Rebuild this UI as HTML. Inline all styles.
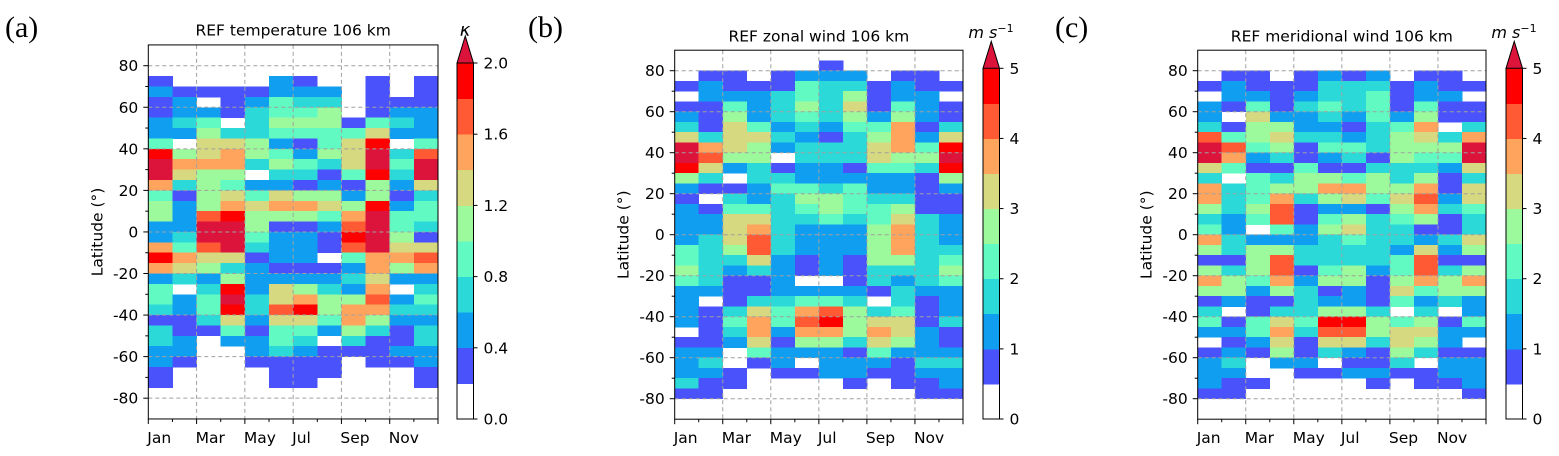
<!DOCTYPE html>
<html><head><meta charset="utf-8"><title>REF 106 km</title>
<style>
html,body{margin:0;padding:0;background:#fff;}
svg{display:block;font-family:"DejaVu Sans","Liberation Sans",sans-serif;}
</style></head>
<body>
<svg id="fig" width="1559" height="456" viewBox="0 0 1559 456" xmlns="http://www.w3.org/2000/svg"></svg>
<script>
const _ = null;
const months = ["Jan","Feb","Mar","Apr","May","Jun","Jul","Aug","Sep","Oct","Nov","Dec"];
const monthLabels = ["Jan","Mar","May","Jul","Sep","Nov"];
const latTicks = [-80,-60,-40,-20,0,20,40,60,80];
const cbTicksTemp = ["0.0","0.4","0.8","1.2","1.6","2.0"];
const cbTicksWind = ["0","1","2","3","4","5"];
const latTopTemp = 75;
const latTopZonal = 85;
const latTopMerid = 80;
const tempValues = [
[.3,_,_,_,_,.5,.3,_,_,.3,_,.3],
[.5,.3,.3,.3,.3,.5,.5,.5,_,.3,_,.3],
[.3,.5,_,.3,.5,.9,.7,.7,_,.3,.3,.3],
[.3,.5,.5,.3,.7,.9,.9,1.1,_,.3,.5,.5],
[.5,.7,.9,_,.7,1.1,1.1,1.1,.3,.9,.7,.5],
[.5,.5,1.1,.7,.7,.9,.9,.9,.9,1.3,.5,.5],
[.9,_,1.3,1.3,1.1,.5,.3,.9,1.3,1.9,_,.9],
[1.9,1.1,1.3,1.5,1.1,.9,.5,1.1,1.3,2.1,.7,1.7],
[2.1,1.5,1.5,1.5,.7,1.1,.9,.7,1.3,2.1,.9,2.1],
[2.1,1.3,1.1,1.1,_,.7,.7,.3,.9,1.9,.7,2.1],
[1.5,.7,1.1,.9,.5,.5,.3,.5,.3,1.1,.5,1.3],
[.9,.3,1.1,1.3,.9,1.3,1.1,1.1,.5,1.1,.3,.7],
[1.1,.5,1.1,1.5,1.3,1.5,1.5,1.3,1.1,1.9,.5,.9],
[1.1,.5,1.7,1.9,1.1,1.1,1.1,.9,1.5,2.1,.9,.9],
[.5,.5,2.1,2.1,1.1,.3,.3,.5,1.7,2.1,.9,.7],
[.5,.7,2.1,2.1,.9,.5,.5,.3,1.9,2.1,1.1,.3],
[1.5,.9,1.7,2.1,.7,.5,.5,.3,1.7,2.1,1.3,1.3],
[1.9,1.5,1.3,1.3,.3,.5,.5,_,.9,1.5,1.5,1.7],
[1.5,1.3,1.1,.7,.5,.3,.3,.3,.5,1.5,1.1,1.5],
[.5,.7,.5,1.1,.5,.5,.5,.5,.7,1.3,.5,.5],
[.9,_,.7,1.9,.5,1.3,1.1,.7,.5,1.5,_,.7],
[.9,.5,.9,2.1,.7,1.3,1.5,1.1,1.1,1.7,.5,.9],
[.7,.5,.9,1.9,.7,1.7,1.9,1.1,1.5,1.5,.7,.7],
[.3,.3,.7,1.3,.5,1.3,1.3,.9,1.5,1.1,.5,.5],
[.7,.3,.3,.9,.3,.9,.9,.5,1.1,.7,.3,.7],
[.7,.5,_,.5,.5,.9,.7,_,.7,.3,.3,.7],
[.5,.5,_,_,.5,.7,.5,.3,.3,.3,.5,.5],
[.5,.3,_,_,.3,.3,.3,.3,_,.3,.3,.5],
[.3,_,_,_,_,.3,.3,.3,_,_,_,.3],
[.3,_,_,_,_,.3,.3,_,_,_,_,.3]
];
const zonalValues = [
[_,_,_,_,_,_,.8,_,_,_,_,_],
[_,.8,.8,_,.8,1.2,1.2,1.2,_,.8,.8,_],
[.8,1.2,.8,.8,.8,2.2,1.8,1.8,.8,1.2,.8,.8],
[_,1.2,1.2,1.2,1.8,2.2,1.8,2.8,.8,1.2,1.2,_],
[.8,.8,2.2,1.2,1.8,2.8,1.8,3.2,.8,2.2,1.2,.8],
[1.2,.8,2.8,1.2,1.8,2.2,1.8,2.8,1.2,2.8,1.2,.8],
[1.8,.8,3.2,2.2,1.2,1.8,1.2,2.2,2.2,3.8,.8,1.8],
[3.2,1.8,3.2,3.2,1.8,1.2,.8,1.8,2.8,3.8,1.2,3.2],
[5.3,3.8,3.2,2.8,1.2,1.8,1.8,1.8,3.2,3.8,2.2,4.8],
[5.3,4.2,2.8,2.8,_,1.8,1.8,1.8,3.2,2.8,2.8,5.3],
[4.8,3.2,1.2,1.8,.8,1.2,1.2,.8,2.2,2.2,1.8,4.8],
[2.8,1.8,_,1.8,1.8,1.2,1.2,1.2,1.2,1.2,.8,2.8],
[1.2,.8,.8,1.2,2.2,2.2,1.8,2.2,1.2,1.2,.8,1.2],
[.8,_,1.8,1.2,1.8,2.8,2.8,2.2,1.8,1.8,.8,.8],
[1.2,.8,2.2,2.2,1.8,2.2,2.8,2.2,2.2,2.8,.8,.8],
[1.2,1.2,3.2,3.2,1.8,1.8,2.2,1.8,2.2,3.2,1.8,1.2],
[1.2,1.2,3.2,3.8,1.8,1.2,1.2,1.2,2.8,3.8,1.8,1.2],
[1.2,1.8,3.2,4.2,1.8,1.2,1.2,1.2,2.8,3.8,1.8,1.2],
[2.2,1.8,2.8,4.2,1.8,1.2,1.2,1.2,2.8,3.8,1.8,1.8],
[2.2,1.8,1.8,3.2,1.2,.8,1.2,.8,2.8,2.8,1.8,2.2],
[2.8,1.8,1.2,1.8,1.2,.8,1.2,.8,1.8,1.8,1.8,2.8],
[2.2,1.8,.8,.8,1.2,_,_,.8,1.8,1.2,1.8,2.2],
[1.2,1.2,.8,.8,1.2,1.2,1.2,1.2,.8,1.8,1.2,1.2],
[1.2,_,.8,1.8,1.8,2.2,2.2,1.8,_,1.8,.8,1.2],
[1.2,.8,1.8,3.2,2.2,3.8,4.2,2.8,1.8,2.2,.8,1.2],
[1.2,.8,2.2,3.8,2.2,4.2,4.8,2.8,3.2,3.2,.8,1.8],
[_,.8,1.8,3.8,1.2,3.8,3.8,2.8,3.8,3.2,1.2,.8],
[.8,.8,1.2,3.2,.8,2.8,2.8,1.8,3.2,2.8,1.2,.8],
[1.2,1.2,_,2.2,1.2,1.2,1.2,.8,2.2,1.2,1.2,1.2],
[1.2,1.8,_,.8,1.2,_,1.2,1.2,1.2,.8,1.8,1.8],
[1.2,1.2,.8,_,.8,.8,1.2,1.2,.8,.8,1.2,1.2],
[1.8,.8,.8,_,_,_,_,.8,_,.8,.8,1.2],
[.8,.8,_,_,_,_,_,_,_,_,.8,.8]
];
const meridValues = [
[_,.8,.8,_,.8,1.2,.8,1.2,_,.8,.8,_],
[.8,1.2,.8,.8,.8,1.8,1.8,1.8,.8,1.2,.8,.8],
[_,1.2,1.2,.8,1.2,1.8,1.8,2.2,.8,1.2,1.2,_],
[1.2,.8,2.2,.8,1.8,2.2,1.8,2.2,.8,2.2,.8,.8],
[1.2,_,3.2,1.2,1.2,1.8,1.2,2.2,1.2,2.8,.8,.8],
[1.8,.8,2.8,2.8,1.2,1.2,.8,1.8,2.2,3.8,_,1.8],
[4.2,2.2,2.8,3.2,1.8,1.8,1.2,1.8,2.8,3.2,1.8,3.8],
[5.3,4.2,2.2,2.8,.8,2.2,2.2,1.8,2.8,2.8,2.8,5.3],
[5.3,3.8,1.2,1.8,.8,1.2,1.8,.8,2.8,2.2,2.2,5.3],
[3.2,2.2,.8,.8,2.2,.8,.8,1.8,1.8,1.8,1.2,3.2],
[1.8,_,2.2,1.8,2.8,2.8,2.2,2.8,1.8,2.8,.8,1.8],
[3.8,1.8,2.2,2.8,2.8,3.8,3.8,2.8,2.8,3.8,.8,3.2],
[3.8,1.8,2.2,3.8,1.8,2.8,3.2,2.2,3.2,4.2,1.2,3.2],
[2.8,1.8,2.8,4.2,.8,1.2,1.2,.8,2.8,3.8,1.8,2.2],
[1.8,1.2,2.2,4.2,.8,2.2,2.8,1.8,2.2,2.8,.8,1.8],
[2.2,1.2,_,2.2,1.2,2.8,3.2,1.8,1.8,.8,.8,1.8],
[3.8,1.8,1.2,1.2,1.2,1.8,2.2,1.8,1.8,1.2,1.8,3.2],
[2.8,1.8,2.8,2.8,1.8,1.8,1.8,1.8,1.2,3.2,1.2,2.8],
[.8,.8,2.8,4.2,1.8,1.8,1.8,1.8,2.2,4.2,.8,.8],
[2.8,1.8,2.8,4.2,.8,2.2,2.8,1.2,2.2,4.2,1.8,2.8],
[3.8,2.8,2.2,3.8,1.2,2.8,2.8,.8,2.8,3.8,2.8,3.8],
[2.8,2.8,1.2,2.8,1.8,.8,1.2,.8,3.2,2.2,2.8,2.8],
[.8,1.2,.8,.8,1.8,1.2,1.2,.8,2.2,1.2,1.8,1.2],
[1.8,_,.8,1.8,1.8,2.8,2.8,1.8,_,1.8,_,1.2],
[2.2,.8,2.2,3.2,2.2,4.8,4.8,2.8,2.2,2.8,.8,2.2],
[1.2,1.2,2.2,3.8,1.8,4.2,4.2,2.8,3.2,3.2,1.2,1.2],
[_,.8,1.2,3.2,.8,3.2,3.2,1.8,3.2,2.8,1.2,_],
[.8,1.2,.8,2.8,.8,1.8,1.2,.8,2.8,1.8,.8,.8],
[1.2,1.8,_,1.2,1.2,_,.8,.8,1.8,_,1.2,1.2],
[1.2,1.2,_,_,.8,.8,1.2,1.2,.8,.8,1.2,1.2],
[1.2,.8,.8,_,_,_,_,.8,_,.8,.8,1.2],
[.8,.8,_,_,_,_,_,_,_,_,_,.8]
];

const COLORS = ["#ffffff","#4a53fb","#109ff0","#2bdad8","#62fac3","#9cfa9c","#d6d980","#ffa45c","#ff5a33","#ff0000","#dc143c"];
const FS = "15.5";
const NS = "http://www.w3.org/2000/svg";
const svg = document.getElementById("fig");
function mk(tag, attrs, parent, text){
  const e = document.createElementNS(NS, tag);
  for (const k in attrs) e.setAttribute(k, attrs[k]);
  if (text !== undefined) e.textContent = text;
  (parent || svg).appendChild(e);
  return e;
}

function drawPanel(cfg){
  const g = mk("g", {});
  
  
  const colW = (cfg.x1 - cfg.x0) / 12;
  const xScale = i => cfg.x0 + i * colW;
  const yScale = lat => cfg.y80 + (80 - lat) * cfg.k;
  const yTop = yScale(90), yBot = yScale(-90);
  const cells = mk("g", {"shape-rendering":"crispEdges"}, g);
  
  
  cfg.values.forEach((row, r) => {
    const latHi = cfg.latTop - 5 * r, latLo = latHi - 5;
    row.forEach((v, c) => {
      if (v === null) return;
      let lvl = Math.floor(v / cfg.step);
      if (lvl > 10) lvl = 10;
      if (lvl <= 0) return;
      const y0 = yScale(latHi), y1 = yScale(latLo);
      const rect = mk("rect", {x: xScale(c).toFixed(2), y: y0.toFixed(2), width: (colW + 0.4).toFixed(2), height: (y1 - y0 + 0.4).toFixed(2), fill: COLORS[lvl]}, cells);
      
      
    });
  });
  const grid = mk("g", {stroke:"#a0a0a0", "stroke-width":"1", "stroke-dasharray":"4,3", fill:"none"}, g);
  
  
  latTicks.forEach(t => { mk("line", {x1:cfg.x0, x2:cfg.x1, y1:yScale(t), y2:yScale(t)}, grid); });
  for (let i = 2; i < 12; i += 2) mk("line", {x1:xScale(i), x2:xScale(i), y1:yTop, y2:yBot}, grid);
  const frame = mk("rect", {x:cfg.x0, y:yTop, width:cfg.x1-cfg.x0, height:yBot-yTop, fill:"none", stroke:"#000", "stroke-width":"1"}, g);
  
  
  const yAxis = mk("g", {}, g);
  
  
  for (let t = -80; t <= 80; t += 10) {
    const major = t % 20 === 0;
    mk("line", {x1:cfg.x0 - (major ? 5 : 3), x2:cfg.x0, y1:yScale(t), y2:yScale(t), stroke:"#000"}, yAxis);
  }
  latTicks.forEach(t => {
    const tx = mk("text", {x:cfg.x0 - 10, y:yScale(t) + 5.5, "text-anchor":"end", "font-size":FS, fill:"#000"}, yAxis, String(t));
    
    
  });
  const yl = mk("text", {x:0, y:0, transform:`translate(${cfg.x0-46},${(yTop+yBot)/2}) rotate(-90)`, "text-anchor":"middle", "font-size":FS}, g, "Latitude (°)");
  
  
  const xAxis = mk("g", {}, g);
  
  
  for (let i = 0; i <= 12; i++) {
    const major = i % 2 === 0;
    mk("line", {x1:xScale(i), x2:xScale(i), y1:yBot, y2:yBot + (major ? 5 : 3), stroke:"#000"}, xAxis);
  }
  monthLabels.forEach((m, j) => {
    const tx = mk("text", {x:xScale(2*j) - 1, y:yBot + 24, "text-anchor":"start", "font-size":FS}, xAxis, m);
    
    
  });
  const ti = mk("text", {x:(cfg.x0+cfg.x1)/2, y:cfg.titleY, "text-anchor":"middle", "font-size":FS}, g, cfg.title);
  
  
  const pl = mk("text", {x:cfg.labelX, y:37, "font-size":"30", "font-family":"'Liberation Serif','DejaVu Serif',serif"}, g, cfg.label);
  
  
  const cb = mk("g", {}, g);
  
  
  const cbx = cfg.cbx, cbw = 16.5, cbTop = cfg.cbTop, cbBot = 419;
  const segH = (cbBot - cbTop) / 10;
  const cbs = mk("g", {"shape-rendering":"crispEdges"}, cb);
  for (let l = 0; l < 10; l++) {
    mk("rect", {x:cbx, y:(cbBot - (l+1)*segH).toFixed(2), width:cbw, height:(segH+0.4).toFixed(2), fill:COLORS[l]}, cbs);
  }
  const apex = cbTop - 27;
  mk("path", {d:`M${cbx},${cbTop} L${cbx+cbw/2},${apex} L${cbx+cbw},${cbTop} Z`, fill:COLORS[10], stroke:"#000", "stroke-width":"1"}, cb);
  mk("path", {d:`M${cbx},${cbTop} L${cbx},${cbBot} L${cbx+cbw},${cbBot} L${cbx+cbw},${cbTop}`, fill:"none", stroke:"#000", "stroke-width":"1"}, cb);
  cfg.cbTicks.forEach((t, j) => {
    const yy = cbBot - j * (cbBot - cbTop) / (cfg.cbTicks.length - 1);
    mk("line", {x1:cbx+cbw, x2:cbx+cbw+4, y1:yy, y2:yy, stroke:"#000"}, cb);
    const tx = mk("text", {x:cbx+cbw+10, y:yy+5.5, "font-size":FS}, cb, t);
    
    
  });
  return {g, cbx, cbw};
}

const pA = drawPanel({name:"panel-a-temperature", x0:148.3, x1:438, y80:65.7, k:2.078, values:tempValues, latTop:latTopTemp, step:0.2,
  title:"REF temperature 106 km", titleY:35.5, label:"(a)", labelX:5, cbx:457, cbTop:63, cbTicks:cbTicksTemp});
const pB = drawPanel({name:"panel-b-zonal-wind", x0:674.7, x1:963, y80:70.7, k:2.05, values:zonalValues, latTop:latTopZonal, step:0.5,
  title:"REF zonal wind 106 km", titleY:41.5, label:"(b)", labelX:528, cbx:983, cbTop:68.3, cbTicks:cbTicksWind});
const pC = drawPanel({name:"panel-c-meridional-wind", x0:1197.7, x1:1486, y80:70.7, k:2.05, values:meridValues, latTop:latTopMerid, step:0.5,
  title:"REF meridional wind 106 km", titleY:41.5, label:"(c)", labelX:1055, cbx:1506, cbTop:68.3, cbTicks:cbTicksWind});

const uA = mk("text", {x:465, y:36, "text-anchor":"middle", "font-size":"18", "font-style":"italic"}, pA.g, "κ");


[pB, pC].forEach(p => {
  const u = mk("text", {x:p.cbx + 8, y:38, "text-anchor":"middle", "font-size":"16", "font-style":"italic"}, p.g);
  
  
  mk("tspan", {}, u, "m s");
  mk("tspan", {dy:"-6", "font-size":"11", "font-style":"normal"}, u, "−1");
});
</script>
</body></html>
